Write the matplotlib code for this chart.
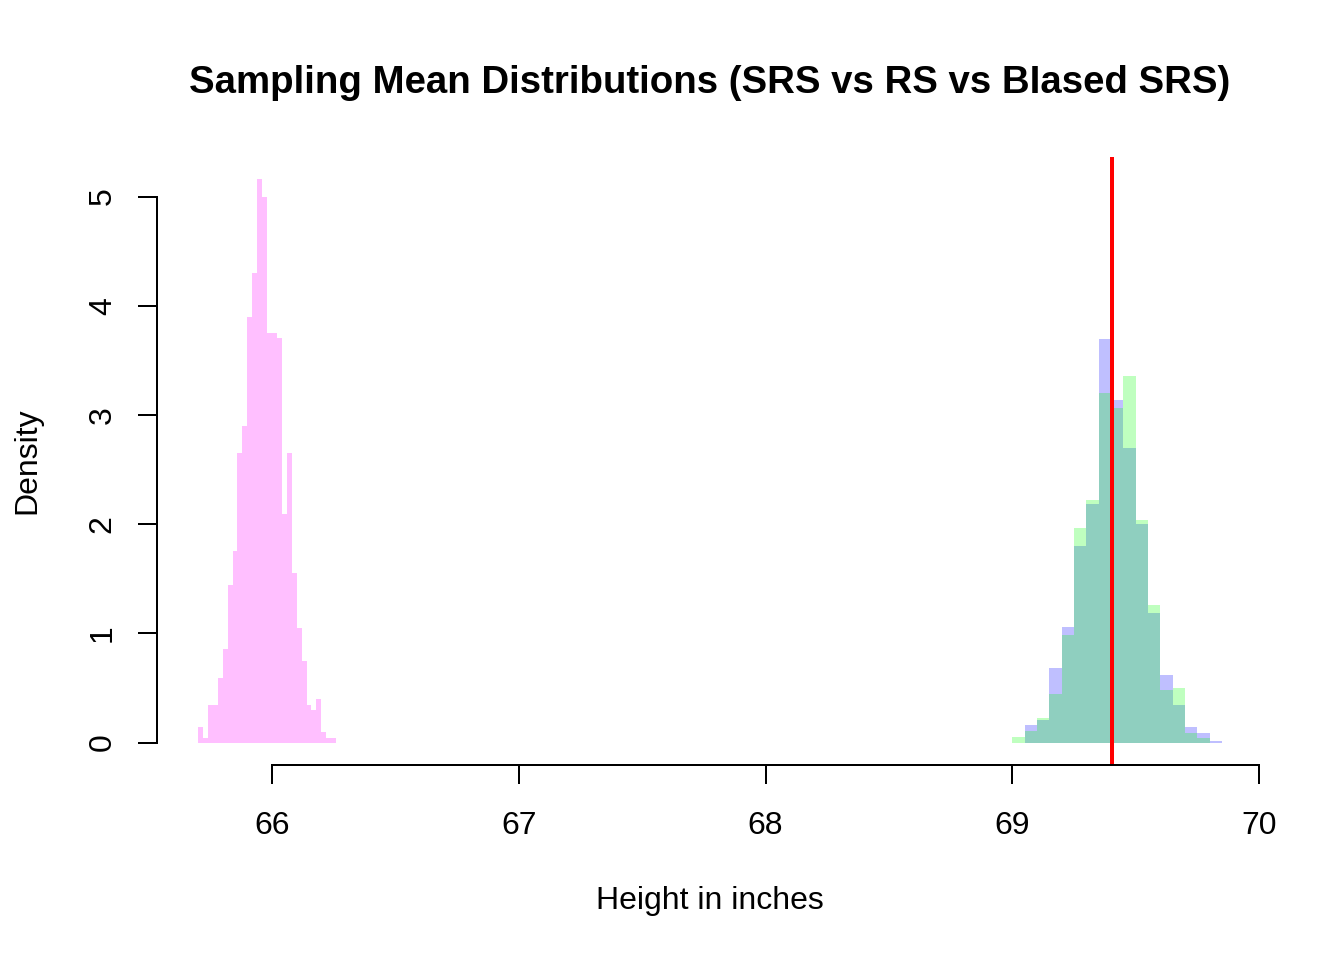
import numpy as np
import matplotlib
matplotlib.use("Agg")
import matplotlib.pyplot as plt

plt.rcParams['font.family'] = ['Liberation Sans', 'DejaVu Sans']

# Biased SRS sample means (pink), bins of 0.02 starting at 65.70
biased_start = 65.70
biased_width = 0.02
biased_density = [0.146, 0.044, 0.346, 0.346, 0.594, 0.852, 1.446, 1.751,
                  2.651, 2.898, 3.896, 4.300, 5.156, 5.000, 3.754, 3.754,
                  3.700, 2.097, 2.651, 1.548, 1.045, 0.750, 0.346, 0.302,
                  0.394, 0.098, 0.044, 0.044]

# SRS and RS sample means, bins of 0.05 starting at 69.00
srs_start = 69.00
srs_width = 0.05
rs_density = [0.0, 0.156, 0.202, 0.679, 1.055, 1.798, 2.183, 3.697, 3.138,
              2.697, 2.000, 1.183, 0.615, 0.339, 0.138, 0.083, 0.018]
srs_density = [0.055, 0.101, 0.220, 0.440, 0.985, 1.963, 2.220, 3.202, 3.064,
               3.358, 2.037, 1.257, 0.477, 0.495, 0.083, 0.037, 0.0]

true_mean = 69.404

x_ticks = [66, 67, 68, 69, 70]
y_ticks = [0, 1, 2, 3, 4, 5]

biased_edges = biased_start + biased_width * np.arange(len(biased_density) + 1)
srs_edges = srs_start + srs_width * np.arange(len(srs_density) + 1)

fig = plt.figure(figsize=(7, 5), dpi=192)
ax = fig.add_axes([157 / 1344, 1 - 765 / 960, (1263 - 157) / 1344, (765 - 157) / 960])

ax.stairs(biased_density, biased_edges, fill=True, color=(1, 0, 1, 0.25), linewidth=0)
ax.stairs(rs_density, srs_edges, fill=True, color=(0, 0, 1, 0.25), linewidth=0)
ax.stairs(srs_density, srs_edges, fill=True, color=(0, 1, 0, 0.25), linewidth=0)
ax.axvline(true_mean, color='red', linewidth=1.5)

ax.set_xlim(65.534, 70.016)
ax.set_ylim(-0.206, 5.362)

for s in ['top', 'right']:
    ax.spines[s].set_visible(False)
ax.spines['bottom'].set_bounds(66, 70)
ax.spines['left'].set_bounds(0, 5)
for s in ['bottom', 'left']:
    ax.spines[s].set_linewidth(0.75)

ax.set_xticks(x_ticks)
ax.set_yticks(y_ticks)
ax.tick_params(axis='both', length=7.2, width=0.75, labelsize=12)
ax.tick_params(axis='x', pad=10)
ax.tick_params(axis='y', pad=7.5)
plt.setp(ax.get_yticklabels(), rotation=90, va='center')

ax.set_xlabel("Height in inches", fontsize=12, labelpad=17)
ax.set_ylabel("Density", fontsize=12, labelpad=17)
ax.set_title("Sampling Mean Distributions (SRS vs RS vs BIased SRS)",
             fontsize=14.4, fontweight='bold', pad=24)

fig.savefig("out.png", dpi=192)
